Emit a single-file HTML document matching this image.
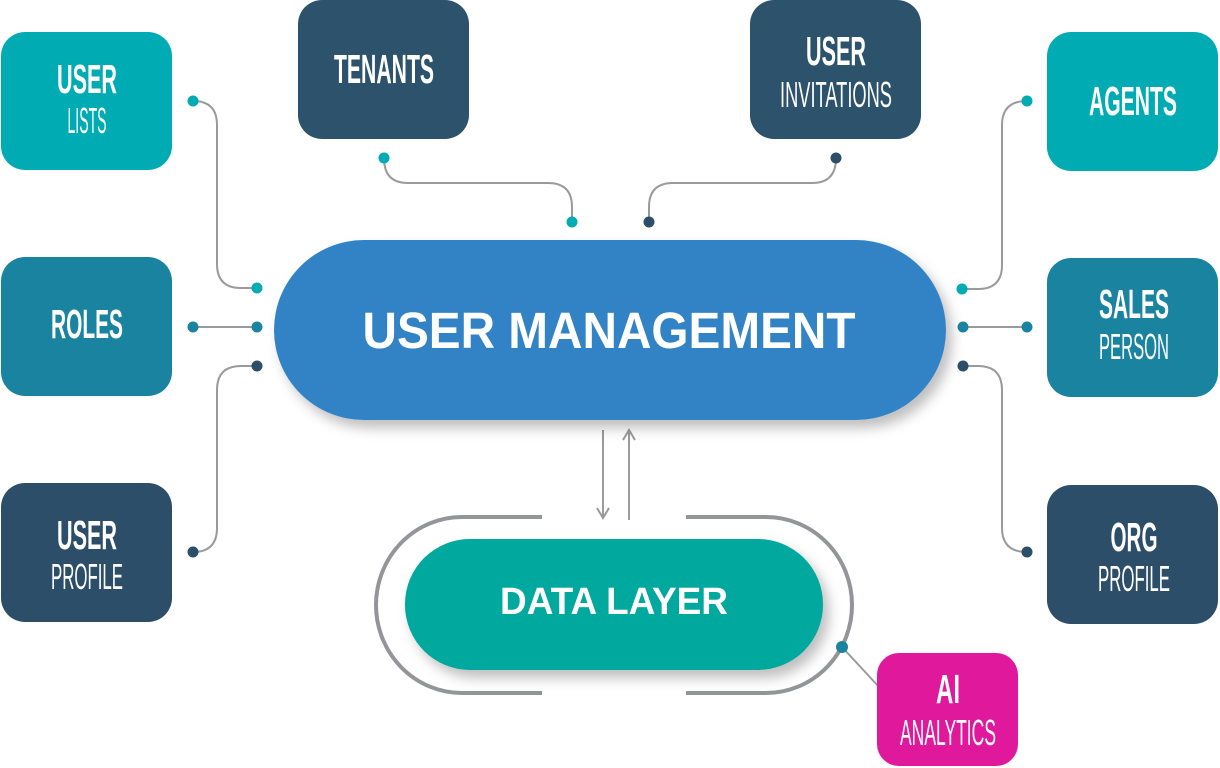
<!DOCTYPE html>
<html><head><style>
html,body{margin:0;padding:0;background:#fff;}
svg{display:block}
.c{font-family:"Liberation Sans Narrow","Liberation Sans",sans-serif;fill:#fff;text-anchor:middle}
.b{font-weight:bold}
.l{fill:none;stroke:#9a9a9c;stroke-width:2}
</style></head><body>
<svg width="1220" height="768" viewBox="0 0 1220 768" xmlns="http://www.w3.org/2000/svg">
<defs>
<filter id="sh" x="-10%" y="-20%" width="125%" height="150%"><feDropShadow dx="6" dy="8" stdDeviation="6" flood-color="#000" flood-opacity="0.25"/></filter>
</defs>
<path class="l" d="M193 101 Q217 101 217 125 L217 264 Q217 288 241 288 L257 288"/>
<path class="l" d="M193 327 L257 327"/>
<path class="l" d="M257 366 L241 366 Q217 366 217 390 L217 528 Q217 552 193 552"/>
<path class="l" d="M384 158 Q384 183 408 183 L548 183 Q572 183 572 207 L572 222"/>
<path class="l" d="M836 158 Q836 183 812 183 L673 183 Q649 183 649 207 L649 222"/>
<path class="l" d="M1027 101 Q1002 101 1002 125 L1002 265 Q1002 289 978 289 L962 289"/>
<path class="l" d="M963 327 L1027 327"/>
<path class="l" d="M963 366 L978 366 Q1002 366 1002 390 L1002 528 Q1002 552 1027 552"/>
<path class="l" d="M842 647 L880 688"/>
<path class="l" d="M603 430 L603 518 M597 508 L603 518 L609 508"/>
<path class="l" d="M629 520 L629 430 M623 440 L629 430 L635 440"/>
<rect x="1" y="32" width="171" height="138" rx="24" fill="#00ABB3"/>
<rect x="298" y="0" width="171" height="139" rx="24" fill="#2D526C"/>
<rect x="750" y="0" width="171" height="139" rx="24" fill="#2D526C"/>
<rect x="1047" y="32" width="171" height="139" rx="24" fill="#00ABB3"/>
<rect x="1" y="257" width="171" height="139" rx="24" fill="#1A84A0"/>
<rect x="1047" y="258" width="171" height="139" rx="24" fill="#1A84A0"/>
<rect x="1" y="483" width="171" height="139" rx="24" fill="#2D4E69"/>
<rect x="1047" y="485" width="171" height="139" rx="24" fill="#2D4E69"/>
<rect x="877" y="653" width="141" height="113" rx="22" fill="#E0189C"/>
<rect x="274" y="240" width="672" height="180" rx="90" fill="#3083C6" filter="url(#sh)"/>
<path d="M542 517 L462 517 A86 88 0 0 0 462 693 L542 693 M686 517 L766 517 A86 88 0 0 1 766 693 L686 693" fill="none" stroke="#939598" stroke-width="4"/>
<rect x="405" y="539" width="418" height="131" rx="65" fill="#02A89D" filter="url(#sh)"/>
<g>
<circle cx="193" cy="101" r="5.5" fill="#00ABB3"/><circle cx="257" cy="288" r="5.5" fill="#00ABB3"/>
<circle cx="193" cy="327" r="5.5" fill="#1A84A0"/><circle cx="257" cy="327" r="5.5" fill="#1A84A0"/>
<circle cx="257" cy="366" r="5.5" fill="#2D4E69"/><circle cx="193" cy="552" r="5.5" fill="#2D4E69"/>
<circle cx="384" cy="158" r="5.5" fill="#00ABB3"/><circle cx="572" cy="222" r="5.5" fill="#00ABB3"/>
<circle cx="836" cy="158" r="5.5" fill="#2D4E69"/><circle cx="649" cy="222" r="5.5" fill="#2D4E69"/>
<circle cx="1027" cy="101" r="5.5" fill="#00ABB3"/><circle cx="962" cy="289" r="5.5" fill="#00ABB3"/>
<circle cx="963" cy="327" r="5.5" fill="#1A84A0"/><circle cx="1027" cy="327" r="5.5" fill="#1A84A0"/>
<circle cx="963" cy="366" r="5.5" fill="#2D4E69"/><circle cx="1027" cy="552" r="5.5" fill="#2D4E69"/>
<circle cx="842" cy="647" r="6" fill="#1A84A0"/>
</g>
<text class="c b" x="87" y="93" font-size="41" textLength="60" lengthAdjust="spacingAndGlyphs">USER</text>
<text class="c" x="87" y="133" font-size="36" textLength="39" lengthAdjust="spacingAndGlyphs">LISTS</text>
<text class="c b" x="384" y="83" font-size="41" textLength="100" lengthAdjust="spacingAndGlyphs">TENANTS</text>
<text class="c b" x="836" y="65" font-size="41" textLength="60" lengthAdjust="spacingAndGlyphs">USER</text>
<text class="c" x="836" y="107" font-size="36" textLength="112" lengthAdjust="spacingAndGlyphs">INVITATIONS</text>
<text class="c b" x="1133" y="115" font-size="41" textLength="88" lengthAdjust="spacingAndGlyphs">AGENTS</text>
<text class="c b" x="87" y="338" font-size="41" textLength="72" lengthAdjust="spacingAndGlyphs">ROLES</text>
<text class="c b" x="1134" y="318" font-size="41" textLength="70" lengthAdjust="spacingAndGlyphs">SALES</text>
<text class="c" x="1134" y="359" font-size="36" textLength="70" lengthAdjust="spacingAndGlyphs">PERSON</text>
<text class="c b" x="87" y="549" font-size="41" textLength="60" lengthAdjust="spacingAndGlyphs">USER</text>
<text class="c" x="87" y="589" font-size="36" textLength="72" lengthAdjust="spacingAndGlyphs">PROFILE</text>
<text class="c b" x="1134" y="551" font-size="41" textLength="47" lengthAdjust="spacingAndGlyphs">ORG</text>
<text class="c" x="1134" y="591" font-size="36" textLength="72" lengthAdjust="spacingAndGlyphs">PROFILE</text>
<text class="c b" x="948" y="703" font-size="41" textLength="24" lengthAdjust="spacingAndGlyphs">AI</text>
<text class="c" x="948" y="745" font-size="36" textLength="96" lengthAdjust="spacingAndGlyphs">ANALYTICS</text>
<text x="609" y="348" font-family="'Liberation Sans',sans-serif" font-weight="bold" font-size="51" fill="#fff" text-anchor="middle" textLength="493" lengthAdjust="spacingAndGlyphs">USER MANAGEMENT</text>
<text x="614" y="614" font-family="'Liberation Sans',sans-serif" font-weight="bold" font-size="38" fill="#fff" text-anchor="middle" textLength="228" lengthAdjust="spacingAndGlyphs">DATA LAYER</text>
</svg>
</body></html>
